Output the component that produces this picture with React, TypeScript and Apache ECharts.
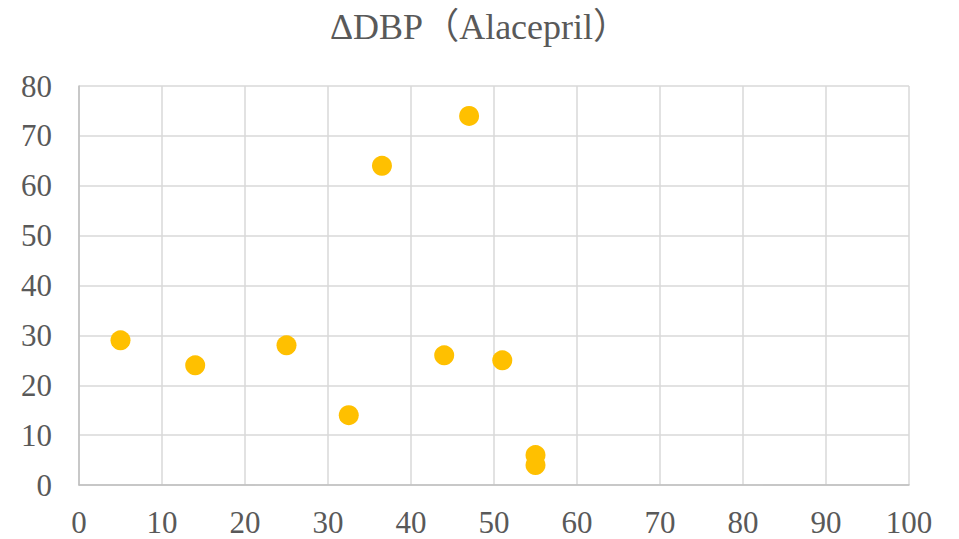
import React, { useEffect, useRef } from "react";
import * as echarts from "echarts";

const titleText = "ΔDBP（Alacepril）";
const xValues = [5, 14, 25, 32.5, 36.5, 44, 47, 51, 55, 55];
const yValues = [29, 24, 28, 14, 64, 26, 74, 25, 6, 4];

const FONT = "Liberation Serif, Times New Roman, Noto Sans CJK JP, serif";

export default function App() {
  const ref = useRef<HTMLDivElement>(null);
  useEffect(() => {
    if (!ref.current) return;
    const chart = echarts.init(ref.current, undefined, { renderer: "svg" });
    const points = xValues.map((x, i) => [x, yValues[i]]);
    chart.setOption({
      animation: false,
      backgroundColor: "#ffffff",
      title: {
        text: titleText,
        left: "center",
        top: 4,
        textStyle: { fontFamily: FONT, fontSize: 36, fontWeight: "normal", color: "#595959" },
      },
      grid: { left: 79, right: 50, top: 86, bottom: 54, containLabel: false },
      xAxis: {
        type: "value",
        min: 0,
        max: 100,
        interval: 10,
        axisLine: { show: true, lineStyle: { color: "#bfbfbf", width: 1.5 } },
        axisTick: { show: false },
        splitLine: { show: true, lineStyle: { color: "#d9d9d9", width: 1.5 } },
        axisLabel: { fontFamily: FONT, fontSize: 31, color: "#595959", margin: 22 },
      },
      yAxis: {
        type: "value",
        min: 0,
        max: 80,
        interval: 10,
        axisLine: { show: true, lineStyle: { color: "#bfbfbf", width: 1.5 } },
        axisTick: { show: false },
        splitLine: { show: true, lineStyle: { color: "#d9d9d9", width: 1.5 } },
        axisLabel: { fontFamily: FONT, fontSize: 31, color: "#595959", margin: 27 },
      },
      series: [
        {
          type: "scatter",
          data: points,
          symbol: "circle",
          symbolSize: 20,
          itemStyle: { color: "#FFC000", opacity: 1 },
        },
      ],
    });
    return () => chart.dispose();
  }, []);
  return <div ref={ref} style={{ width: 959, height: 539, position: "absolute", left: 0, top: 0 }} />;
}
